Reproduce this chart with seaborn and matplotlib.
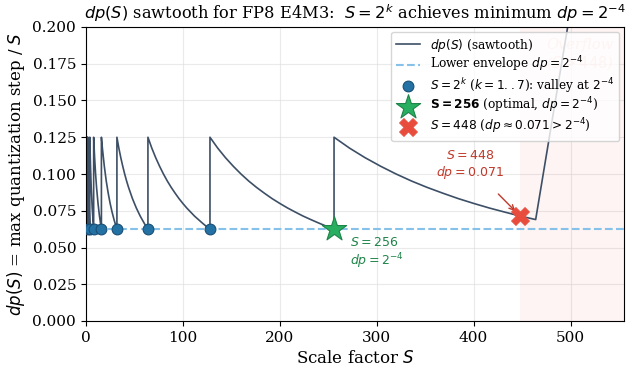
import numpy as np
import pandas as pd
import matplotlib
matplotlib.use('Agg')
import matplotlib.pyplot as plt
import seaborn as sns

# valley positions S = 2^k and the optimal / overflow points
valley_s = [2, 4, 8, 16, 32, 64, 128]
optimal_s = 256
overflow_s = 448
overflow_dp = 0.0714
envelope_dp = 0.0625

# one octave of the sawtooth (relative position inside the octave, dp value)
octave_rel = [1.0, 1.0625, 1.125, 1.1875, 1.25, 1.3125, 1.375, 1.4375, 1.5,
              1.5625, 1.625, 1.6875, 1.75, 1.8125, 1.875, 1.9375, 2.0]
octave_dp = [0.125, 0.1176, 0.1111, 0.1053, 0.1, 0.0952, 0.0909, 0.0870, 0.0833,
             0.08, 0.0769, 0.0741, 0.0714, 0.0690, 0.0667, 0.0645, 0.0625]
octave_starts = [1, 2, 4, 8, 16, 32, 64, 128]

# last octave starting at 256, cut before overflow, then the overflow rise
last_s = [256, 272, 288, 304, 320, 336, 352, 368, 384, 400, 416, 432, 448, 464, 560]
last_dp = [0.125, 0.1176, 0.1111, 0.1053, 0.1, 0.0952, 0.0909, 0.0870, 0.0833,
           0.08, 0.0769, 0.0741, 0.0714, 0.0690, 0.45]

rows = []
for start in octave_starts:
    for r, d in zip(octave_rel, octave_dp):
        rows.append((start * r, d))
for s, d in zip(last_s, last_dp):
    rows.append((s, d))
curve = pd.DataFrame(rows, columns=['S', 'dp'])

plt.rcParams['font.family'] = ['DejaVu Serif']
fig, ax = plt.subplots(figsize=(6.27, 3.75), dpi=100)
fig.subplots_adjust(left=0.137, right=0.995, top=0.928, bottom=0.144)

xmax = 555
ax.axvspan(overflow_s, xmax, color='#e74c3c', alpha=0.06, lw=0)
ax.text(510, 0.181, 'Overflow\n($S > 448$)', color='#e74c3c', alpha=0.25,
        ha='center', va='center', fontsize=10.5, style='italic')

sns.lineplot(data=curve, x='S', y='dp', sort=False, estimator=None,
             color='#3d4f66', lw=1.2, ax=ax, label='$dp(S)$ (sawtooth)')
ax.axhline(envelope_dp, color='#85c1e9', ls='--', lw=1.5,
           label='Lower envelope $dp = 2^{-4}$')

sns.scatterplot(x=valley_s, y=[envelope_dp] * len(valley_s), s=60,
                color='#2471a3', edgecolor='#1a4f75', linewidth=0.8, zorder=5, ax=ax,
                label='$S = 2^k$ ($k = 1..7$): valley at $2^{-4}$')
sns.scatterplot(x=[optimal_s], y=[envelope_dp], marker='*', s=340,
                color='#27ae60', edgecolor='#1e8449', linewidth=0.8, zorder=6, ax=ax,
                label=r'$\mathbf{S = 256}$ (optimal, $dp = 2^{-4}$)')
sns.scatterplot(x=[overflow_s], y=[overflow_dp], marker='X', s=170,
                color='#e74c3c', edgecolor='#e74c3c', linewidth=0.5, zorder=6, ax=ax,
                label=r'$S = 448$ ($dp \approx 0.071 > 2^{-4}$)')

ax.text(272, 0.046, '$S = 256$\n$dp = 2^{-4}$', color='#1e8449',
        ha='left', va='center', fontsize=9)
ax.annotate('$S = 448$\n$dp = 0.071$', xy=(overflow_s - 3, overflow_dp + 0.002),
            xytext=(396, 0.106), color='#c0392b', ha='center', va='center',
            fontsize=9,
            arrowprops=dict(arrowstyle='->', color='#c0392b', lw=1.0,
                            shrinkA=10, shrinkB=2))

ax.set_xlim(0, xmax)
ax.set_ylim(0, 0.2)
yt = np.arange(0, 0.201, 0.025)
ax.set_yticks(yt)
ax.set_yticklabels([f'{v:.3f}' for v in yt])
ax.tick_params(labelsize=11)
ax.grid(True, color='#dddddd', alpha=0.6, lw=0.8)
ax.set_axisbelow(True)
ax.set_xlabel('Scale factor $S$', fontsize=12)
ax.set_ylabel('$dp(S)$ = max quantization step / $S$', fontsize=12)
ax.set_title('$dp(S)$ sawtooth for FP8 E4M3:  $S = 2^k$ achieves minimum $dp = 2^{-4}$',
             fontsize=11.7)
ax.legend(loc='upper right', fontsize=8.7, framealpha=0.8, labelspacing=0.1,
          borderaxespad=0.4)

plt.savefig('out.png')
plt.close()
